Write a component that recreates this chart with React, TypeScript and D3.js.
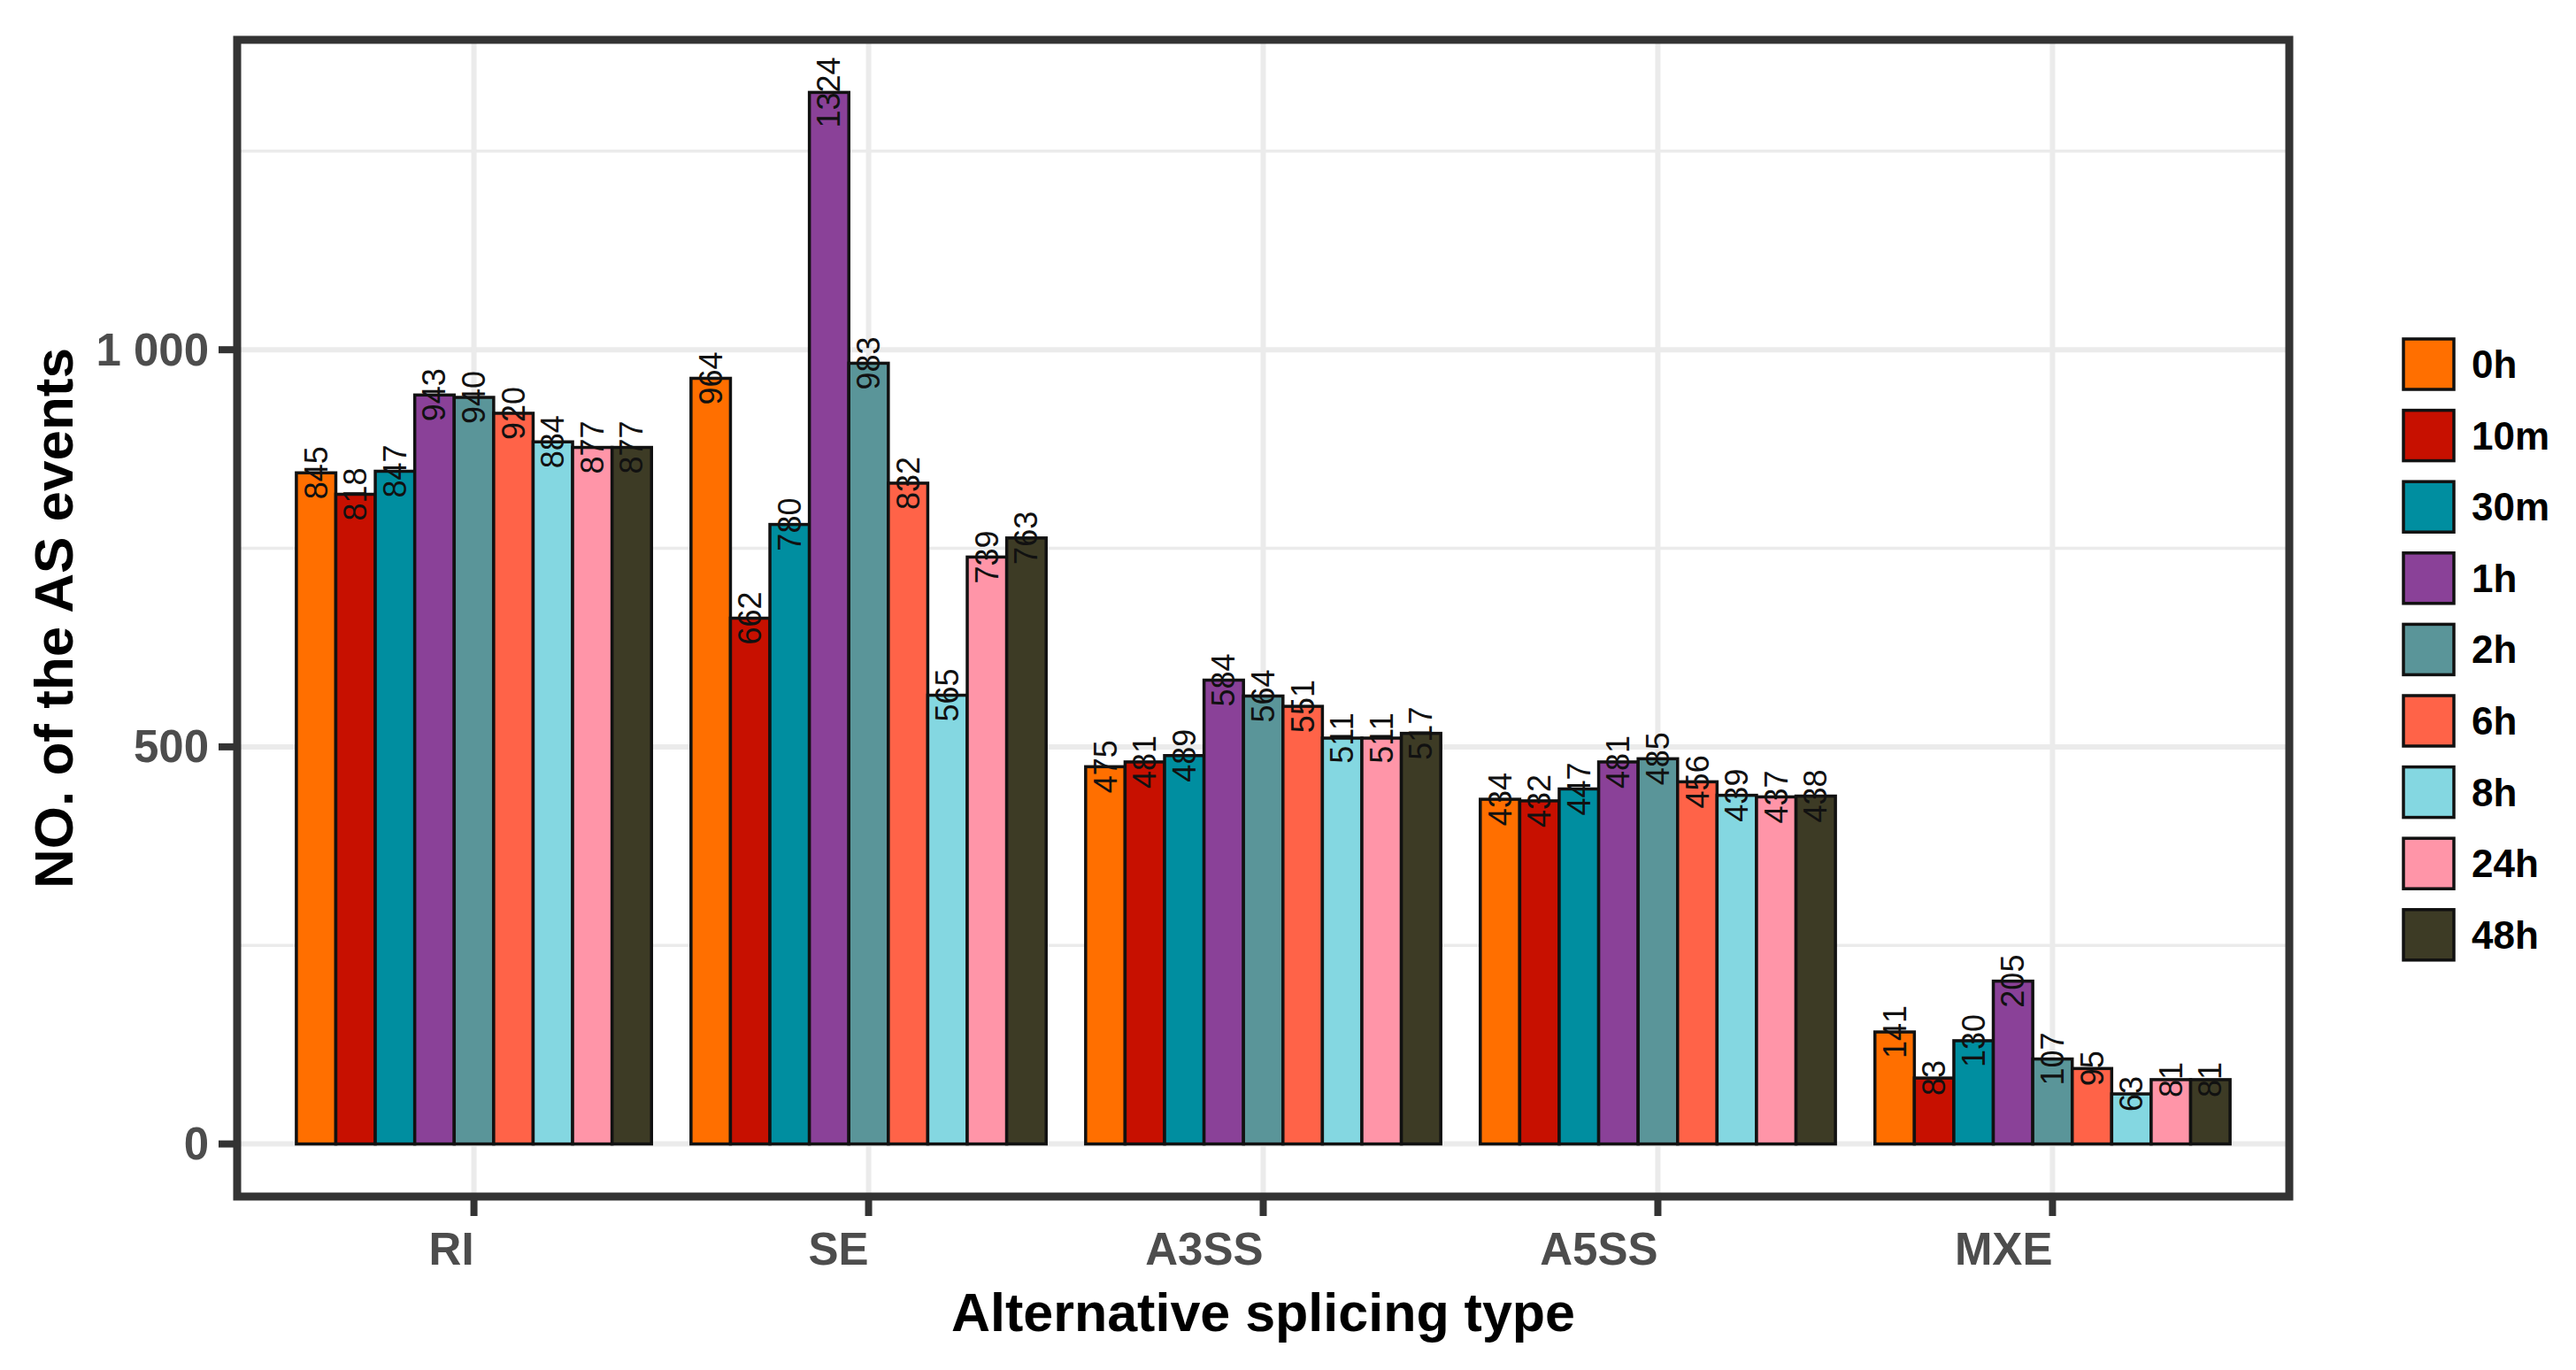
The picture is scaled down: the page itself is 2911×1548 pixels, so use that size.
import * as d3 from 'd3';
import React from 'react';

// categories on the x axis
const categories = ['RI', 'SE', 'A3SS', 'A5SS', 'MXE'];
// time points (fill groups)
const timePoints = ['0h', '10m', '30m', '1h', '2h', '6h', '8h', '24h', '48h'];
const palette = ['#FF6F00', '#C71000', '#008EA0', '#8A4198', '#5A9599', '#FF6348', '#84D7E1', '#FF95A8', '#3D3B25'];

// counts per category, one entry per time point
const riValues = [845, 818, 847, 943, 940, 920, 884, 877, 877];
const seValues = [964, 662, 780, 1324, 983, 832, 565, 739, 763];
const a3ssValues = [475, 481, 489, 584, 564, 551, 511, 511, 517];
const a5ssValues = [434, 432, 447, 481, 485, 456, 439, 437, 438];
const mxeValues = [141, 83, 130, 205, 107, 95, 63, 81, 81];

const majorTicks = [0, 500, 1000];
const minorTicks = [250, 750, 1250];
const tickLabels = ['0', '500', '1 000'];

const W = 2911;
const H = 1548;
const FONT = '"Liberation Sans", Arial, Helvetica, sans-serif';

export default function App() {
  const series = [riValues, seValues, a3ssValues, a5ssValues, mxeValues];
  const rows = categories.flatMap((c, ci) =>
    timePoints.map((t, ti) => ({ cat: c, time: t, value: series[ci][ti], color: palette[ti] }))
  );

  const panel = { left: 268, right: 2587, top: 45, bottom: 1352 };

  const xScale = d3
    .scaleBand<string>()
    .domain(categories)
    .range([panel.left, panel.right])
    .paddingInner(0.1)
    .paddingOuter(0.15);

  const inner = d3.scaleBand<string>().domain(timePoints).range([0, xScale.bandwidth()]);

  const maxV = d3.max(rows, (d) => d.value) ?? 0;
  const expand = maxV * 0.05;
  const yScale = d3
    .scaleLinear()
    .domain([-expand, maxV + expand])
    .range([panel.bottom, panel.top]);

  const center = (c: string) => (xScale(c) ?? 0) + xScale.bandwidth() / 2;

  const legendX = 2716;
  const legendY = 383;
  const keySize = 57;
  const keyStep = 80.6;

  return (
    <svg width={W} height={H} style={{ position: 'absolute', left: 0, top: 0, background: 'white' }} fontFamily={FONT}>
      <rect x={0} y={0} width={W} height={H} fill='white' />

      {/* grid */}
      <g stroke='#EBEBEB'>
        {minorTicks.map((t) => (
          <line key={'mi' + t} x1={panel.left} x2={panel.right} y1={yScale(t)} y2={yScale(t)} strokeWidth={3.5} />
        ))}
        {majorTicks.map((t) => (
          <line key={'ma' + t} x1={panel.left} x2={panel.right} y1={yScale(t)} y2={yScale(t)} strokeWidth={6} />
        ))}
        {categories.map((c) => (
          <line key={'v' + c} x1={center(c)} x2={center(c)} y1={panel.top} y2={panel.bottom} strokeWidth={6} />
        ))}
      </g>

      {/* bars */}
      <g stroke='#111' strokeWidth={3.5}>
        {rows.map((d, i) => (
          <rect
            key={i}
            x={(xScale(d.cat) ?? 0) + (inner(d.time) ?? 0)}
            y={yScale(d.value)}
            width={inner.bandwidth()}
            height={yScale(0) - yScale(d.value)}
            fill={d.color}
          />
        ))}
      </g>

      {/* value labels */}
      <g fontSize={36} fill='#111'>
        {rows.map((d, i) => {
          const cx = (xScale(d.cat) ?? 0) + (inner(d.time) ?? 0) + inner.bandwidth() / 2;
          const cy = yScale(d.value);
          return (
            <text
              key={i}
              transform={`translate(${cx},${cy}) rotate(-90)`}
              textAnchor='middle'
              dominantBaseline='central'>
              {d.value}
            </text>
          );
        })}
      </g>

      {/* panel border */}
      <rect
        x={panel.left}
        y={panel.top}
        width={panel.right - panel.left}
        height={panel.bottom - panel.top}
        fill='none'
        stroke='#333333'
        strokeWidth={9}
      />

      {/* y axis */}
      <g>
        {majorTicks.map((t, i) => (
          <g key={t}>
            <line x1={247} x2={panel.left} y1={yScale(t)} y2={yScale(t)} stroke='#333333' strokeWidth={8} />
            <text
              x={236}
              y={yScale(t)}
              textAnchor='end'
              dominantBaseline='central'
              fontSize={51}
              fontWeight='bold'
              fill='#4D4D4D'>
              {tickLabels[i]}
            </text>
          </g>
        ))}
      </g>

      {/* x axis */}
      <g>
        {categories.map((c) => (
          <g key={c}>
            <line x1={center(c)} x2={center(c)} y1={panel.bottom} y2={panel.bottom + 22} stroke='#333333' strokeWidth={8} />
            <text x={center(c)} y={1429} textAnchor='end' fontSize={51} fontWeight='bold' fill='#4D4D4D'>
              {c}
            </text>
          </g>
        ))}
      </g>

      {/* axis titles */}
      <text x={(panel.left + panel.right) / 2} y={1504} textAnchor='middle' fontSize={61} fontWeight='bold' fill='#000'>
        Alternative splicing type
      </text>
      <text
        transform={`translate(82,${(panel.top + panel.bottom) / 2}) rotate(-90)`}
        textAnchor='middle'
        fontSize={62}
        fontWeight='bold'
        fill='#000'>
        NO. of the AS events
      </text>

      {/* legend */}
      <g>
        {timePoints.map((t, i) => (
          <g key={t} transform={`translate(${legendX},${legendY + i * keyStep})`}>
            <rect x={0} y={0} width={keySize} height={keySize} fill={palette[i]} stroke='#111' strokeWidth={3.5} />
            <text
              x={keySize + 20}
              y={keySize / 2}
              dominantBaseline='central'
              fontSize={44}
              fontWeight='bold'
              fill='#000'>
              {t}
            </text>
          </g>
        ))}
      </g>
    </svg>
  );
}
